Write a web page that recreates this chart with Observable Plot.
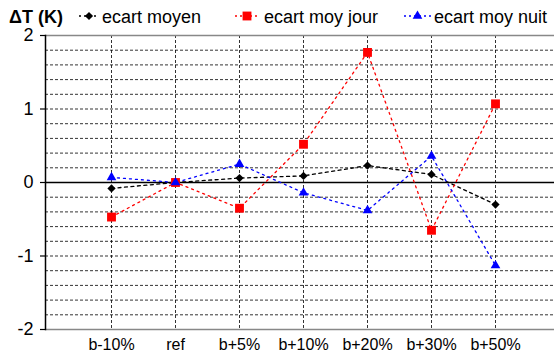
<!DOCTYPE html>
<html>
<head>
<meta charset="utf-8">
<script src="https://cdn.jsdelivr.net/npm/d3@7"></script>
<script src="https://cdn.jsdelivr.net/npm/@observablehq/plot@0.6"></script>
<style>
  html, body { margin: 0; padding: 0; background: #fff; }
  #wrap { width: 554px; height: 356px; overflow: hidden; font-family: "Liberation Sans", Arial, sans-serif; }
  #head { display: block; }
</style>
</head>
<body>
<div id="wrap"></div>
<script>
const categories = ["b-10%", "ref", "b+5%", "b+10%", "b+20%", "b+30%", "b+50%"];
const ecartMoyen = [-0.08, 0.00, 0.06, 0.09, 0.23, 0.11, -0.30];
const ecartMoyJour = [-0.47, 0.00, -0.35, 0.52, 1.77, -0.65, 1.07];
const ecartMoyNuit = [0.07, 0.00, 0.25, -0.14, -0.38, 0.36, -1.13];
const seriesNames = ["ecart moyen", "ecart moy jour", "ecart moy nuit"];
const yTicks = [-2, -1, 0, 1, 2];
const yTitle = "ΔT (K)";

const series = [
  {name: seriesNames[0], values: ecartMoyen, color: "#000000", symbol: "diamond2", r: 3.7, dash: "3,3.5"},
  {name: seriesNames[1], values: ecartMoyJour, color: "#ff0000", symbol: "square", r: 5.0, dash: "2,4"},
  {name: seriesNames[2], values: ecartMoyNuit, color: "#0000ff", symbol: "triangle", r: 3.6, dash: "2,4"}
];

const gridY = d3.range(-9, 10).map(k => k / 5).filter(v => v !== 0);

const wrap = document.getElementById("wrap");

// header: title + legend
const head = d3.create("svg").attr("id", "head").attr("width", 554).attr("height", 28)
  .style("font-family", "'Liberation Sans', Arial, sans-serif");
head.append("text").attr("x", 9).attr("y", 23).attr("font-size", 18).attr("font-weight", "bold").text(yTitle);
const legendPos = [{x0: 79, x1: 99, tx: 102}, {x0: 235, x1: 259, tx: 264}, {x0: 404, x1: 431, tx: 434}];
series.forEach((s, i) => {
  const p = legendPos[i];
  const cy = 16;
  head.append("line").attr("x1", p.x0).attr("x2", p.x1).attr("y1", cy).attr("y2", cy)
    .attr("stroke", s.color).attr("stroke-width", 1.5).attr("stroke-dasharray", "2,3");
  const sym = {diamond2: d3.symbolDiamond2, square: d3.symbolSquare, triangle: d3.symbolTriangle}[s.symbol];
  head.append("path").attr("d", d3.symbol(sym, Math.PI * s.r * s.r)())
    .attr("transform", `translate(${(p.x0 + p.x1) / 2},${cy})`).attr("fill", s.color);
  head.append("text").attr("x", p.tx).attr("y", 23).attr("font-size", 18).text(s.name);
});
wrap.appendChild(head.node());

const marks = [
  Plot.ruleY(gridY, {stroke: "#000", strokeWidth: 1, strokeDasharray: "3,2", strokeOpacity: 0.8}),
  Plot.ruleX(categories, {x: d => d, stroke: "#000", strokeWidth: 1, strokeDasharray: "3,2", strokeOpacity: 0.8}),
  Plot.ruleY([2, -2], {stroke: "#888", strokeWidth: 1.5}),
  Plot.ruleY([0], {stroke: "#000", strokeWidth: 1.5}),
  Plot.frame({anchor: "left", stroke: "#000", strokeWidth: 1.5}),
  Plot.axisY(yTicks, {tickSize: 5, tickPadding: 7, fontSize: 18, tickFormat: d => String(d), label: null, strokeWidth: 1.2}),
  Plot.axisX({tickSize: 0, tickPadding: 9, fontSize: 16, label: null})
];
for (const s of series) {
  marks.push(Plot.line(categories, {x: d => d, y: (d, i) => s.values[i], stroke: s.color, strokeWidth: 1.3, strokeDasharray: s.dash}));
}
for (const s of series) {
  marks.push(Plot.dot(categories, {x: d => d, y: (d, i) => s.values[i], symbol: () => s.symbol, fill: s.color, stroke: "none", r: s.r}));
}

const chart = Plot.plot({
  width: 554,
  height: 328,
  marginLeft: 45,
  marginRight: 0,
  marginTop: 7,
  marginBottom: 27,
  style: {fontFamily: "'Liberation Sans', Arial, sans-serif", color: "#000", background: "#fff", overflow: "visible"},
  x: {type: "point", domain: categories, range: [110, 496], padding: 0, axis: null},
  y: {domain: [-2, 2], axis: null},
  symbol: {type: "identity"},
  marks
});
chart.style.display = "block";
wrap.appendChild(chart);
</script>
</body>
</html>
